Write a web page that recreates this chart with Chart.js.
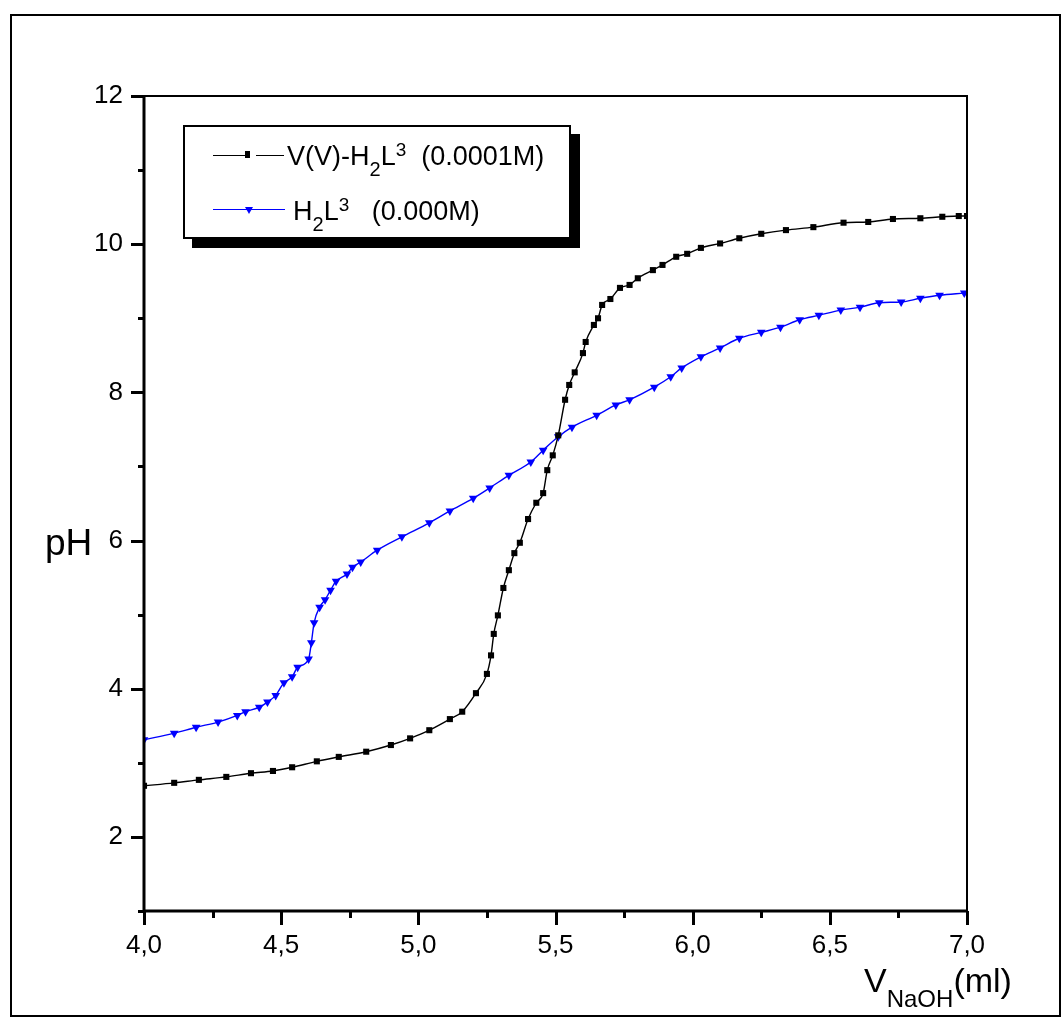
<!DOCTYPE html>
<html>
<head>
<meta charset="utf-8">
<script src="https://cdn.jsdelivr.net/npm/chart.js@4.4.1/dist/chart.umd.min.js"></script>
<style>
  body { margin: 0; background: #fff; font-family: "Liberation Sans", Arial, sans-serif; }
  #wrap { position: relative; width: 1063px; height: 1019px; overflow: hidden; }
  #frame { position: absolute; left: 10px; top: 14px; width: 1051px; height: 1003px; border: 2px solid #000; box-sizing: border-box; }
  canvas { position: absolute; left: 0; top: 0; }
  .legend { position: absolute; left: 183px; top: 125px; width: 388px; height: 114px; border: 2px solid #000; box-sizing: border-box; background: #fff; box-shadow: 9px 9px 0 #000; }
  .seg { position: absolute; height: 1px; }
  .txt { position: absolute; font-size: 27px; line-height: 28px; white-space: pre; color: #000; }
  .txt sub, .t sub { font-size: 20px; vertical-align: -11px; line-height: 0; }
  .txt sup { font-size: 19px; vertical-align: 9px; line-height: 0; }
  .sq { position: absolute; width: 5px; height: 7px; background: #000; }
  .tri { position: absolute; width: 0; height: 0; border-left: 4px solid transparent; border-right: 4px solid transparent; border-top: 7px solid #00f; }
  .t { position: absolute; white-space: pre; color: #000; line-height: 1; }
</style>
</head>
<body>
<div id="wrap">
  <canvas id="c" width="1063" height="1019"></canvas>
  <div id="frame"></div>
  <div class="legend">
    <div class="seg" style="left:28px; top:28px; width:32px; background:#000;"></div>
    <div class="sq" style="left:60px; top:24px;"></div>
    <div class="seg" style="left:71px; top:28px; width:28px; background:#000;"></div>
    <div class="txt" style="left:102px; top:15px;">V(V)-H<sub>2</sub>L<sup>3</sup>  (0.0001M)</div>
    <div class="seg" style="left:28px; top:82px; width:72px; background:#00f;"></div>
    <div class="tri" style="left:60px; top:80px;"></div>
    <div class="txt" style="left:108px; top:70px;">H<sub>2</sub>L<sup>3</sup>   (0.000M)</div>
  </div>
  <div class="t" style="left:45px; top:524px; font-size:37px;">pH</div>
  <div class="t" style="left:864px; top:963px; font-size:34px;">V<sub style="font-size:24px; vertical-align:-15px;">NaOH</sub>(ml)</div>
</div>
<script>
// V(V)-H2L3 (0.0001M) titration curve
const blackVol = [4.00, 4.11, 4.20, 4.30, 4.39, 4.47, 4.54, 4.63, 4.71, 4.81, 4.90, 4.97, 5.04, 5.115, 5.16, 5.21, 5.25,
  5.265, 5.275, 5.29, 5.31, 5.33, 5.35, 5.37, 5.40, 5.43, 5.455, 5.47, 5.49, 5.51, 5.535, 5.55, 5.57, 5.60, 5.61,
  5.64, 5.655, 5.67, 5.70, 5.735, 5.77, 5.80, 5.855, 5.89, 5.94, 5.98, 6.03, 6.10, 6.17, 6.25, 6.34, 6.44, 6.55,
  6.64, 6.73, 6.83, 6.91, 6.97, 7.00];
const blackPH = [2.69, 2.73, 2.77, 2.81, 2.86, 2.89, 2.94, 3.02, 3.08, 3.15, 3.24, 3.33, 3.44, 3.59, 3.69, 3.94, 4.20,
  4.45, 4.74, 4.99, 5.36, 5.60, 5.83, 5.97, 6.29, 6.51, 6.64, 6.95, 7.15, 7.42, 7.90, 8.10, 8.27, 8.53, 8.68,
  8.91, 9.00, 9.18, 9.26, 9.41, 9.45, 9.54, 9.65, 9.72, 9.83, 9.87, 9.95, 10.01, 10.08, 10.14, 10.19, 10.23, 10.29,
  10.30, 10.34, 10.35, 10.37, 10.38, 10.38];

// H2L3 (0.000M) titration curve
const blueVol = [4.00, 4.11, 4.19, 4.27, 4.34, 4.37, 4.42, 4.45, 4.48, 4.51, 4.54, 4.56, 4.60, 4.61, 4.62, 4.64,
  4.66, 4.68, 4.70, 4.74, 4.76, 4.79, 4.85, 4.94, 5.04, 5.115, 5.20, 5.26, 5.33, 5.41, 5.455, 5.51, 5.56, 5.65,
  5.72, 5.77, 5.86, 5.92, 5.96, 6.03, 6.10, 6.17, 6.25, 6.32, 6.39, 6.46, 6.54, 6.61, 6.68, 6.76, 6.83, 6.90, 6.99];
const bluePH = [3.31, 3.40, 3.48, 3.55, 3.64, 3.69, 3.75, 3.82, 3.91, 4.08, 4.16, 4.29, 4.40, 4.62, 4.89, 5.10,
  5.20, 5.33, 5.45, 5.55, 5.64, 5.71, 5.87, 6.05, 6.24, 6.40, 6.57, 6.71, 6.88, 7.06, 7.22, 7.40, 7.53, 7.69,
  7.83, 7.90, 8.07, 8.21, 8.33, 8.48, 8.60, 8.73, 8.81, 8.88, 8.98, 9.04, 9.11, 9.15, 9.21, 9.22, 9.27, 9.31, 9.34];

const xMin = 4, xMax = 7, yMin = 1, yMax = 12;

function toPoints(xs, ys) {
  return xs.map((x, i) => ({ x: x, y: ys[i] }));
}

// frame of the plot area + major/minor ticks
const axesPlugin = {
  id: 'axesPlugin',
  afterDraw(chart) {
    const ctx = chart.ctx;
    const a = chart.chartArea;
    const xs = chart.scales.x, ys = chart.scales.y;
    ctx.save();
    ctx.strokeStyle = '#000';
    ctx.lineWidth = 2;
    ctx.beginPath();
    ctx.moveTo(a.left, a.top); ctx.lineTo(a.right, a.top); ctx.lineTo(a.right, a.bottom);
    ctx.stroke();
    ctx.lineWidth = 3;
    ctx.beginPath();
    ctx.moveTo(a.left, a.top); ctx.lineTo(a.left, a.bottom); ctx.lineTo(a.right + 1, a.bottom);
    ctx.stroke();
    ctx.lineWidth = 3;
    for (let v = yMin; v <= yMax; v++) {
      const py = Math.round(ys.getPixelForValue(v)) + 0.5;
      const len = v % 2 === 0 ? 13 : 6;
      ctx.beginPath(); ctx.moveTo(a.left, py); ctx.lineTo(a.left - len, py); ctx.stroke();
    }
    for (let i = 0; i <= 12; i++) {
      const v = xMin + i * 0.25;
      const px = Math.round(xs.getPixelForValue(v)) + 0.5;
      const len = i % 2 === 0 ? 14 : 7;
      ctx.beginPath(); ctx.moveTo(px, a.bottom); ctx.lineTo(px, a.bottom + len); ctx.stroke();
    }
    ctx.restore();
  }
};

new Chart(document.getElementById('c'), {
  type: 'line',
  data: {
    datasets: [
      {
        label: 'V(V)-H2L3 (0.0001M)',
        data: toPoints(blackVol, blackPH),
        borderColor: '#000',
        backgroundColor: '#000',
        borderWidth: 1.4,
        pointStyle: 'rect',
        pointRadius: 4.3,
        pointBorderWidth: 0,
        cubicInterpolationMode: 'monotone'
      },
      {
        label: 'H2L3 (0.000M)',
        data: toPoints(blueVol, bluePH),
        borderColor: '#0000ff',
        backgroundColor: '#0000ff',
        borderWidth: 1.4,
        pointStyle: 'triangle',
        pointRotation: 180,
        pointRadius: 5,
        pointBorderWidth: 0,
        cubicInterpolationMode: 'monotone'
      }
    ]
  },
  options: {
    responsive: false,
    animation: false,
    layout: { padding: { left: 0, top: 96, right: 96, bottom: 0 } },
    plugins: { legend: { display: false }, tooltip: { enabled: false } },
    scales: {
      x: {
        type: 'linear',
        min: xMin, max: xMax,
        afterFit(scale) { scale.height = 108; },
        grid: { display: false, drawTicks: false },
        border: { display: false },
        ticks: {
          stepSize: 0.5,
          padding: 19,
          color: '#000',
          font: { family: '"Liberation Sans", Arial', size: 26 },
          maxRotation: 0,
          callback: v => v.toFixed(1).replace('.', ',')
        }
      },
      y: {
        type: 'linear',
        min: yMin, max: yMax,
        afterFit(scale) { scale.width = 144; },
        grid: { display: false, drawTicks: false },
        border: { display: false },
        ticks: {
          stepSize: 1,
          padding: 21,
          color: '#000',
          font: { family: '"Liberation Sans", Arial', size: 26 },
          callback: v => (v % 2 === 0 ? String(v) : '')
        }
      }
    }
  },
  plugins: [axesPlugin]
});
</script>
</body>
</html>
